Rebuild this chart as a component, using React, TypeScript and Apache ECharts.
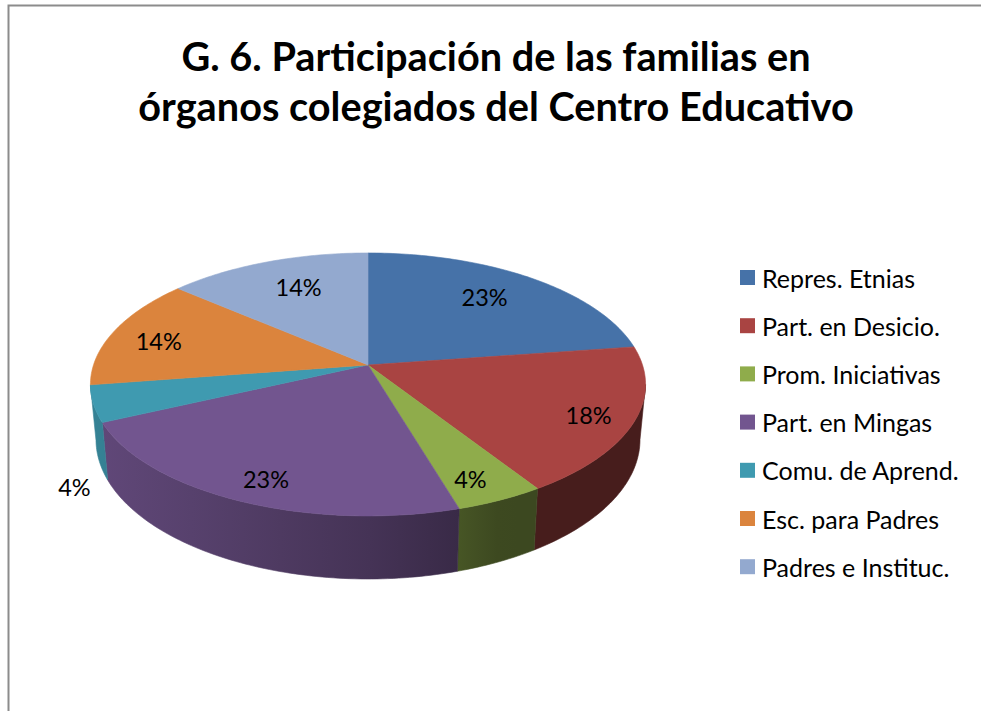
import React, { useEffect, useRef } from "react";
import * as echarts from "echarts";

const TITLE_LINES = ["G. 6. Participación de las familias en", "órganos colegiados del Centro Educativo"];
const CATEGORIES = [
  "Repres. Etnias",
  "Part. en Desicio.",
  "Prom. Iniciativas",
  "Part. en Mingas",
  "Comu. de Aprend.",
  "Esc. para Padres",
  "Padres e Instituc.",
];
const VALUES = [22.7, 18.2, 4.49, 22.7, 4.49, 13.7, 13.7];
const COLORS = ["#4672A8", "#A94442", "#8FAC4B", "#72558F", "#3F9AB0", "#DB843D", "#93A9CF"];

// Label placement in disk coordinates: radius fraction, shift from the slice's mid-angle in degrees
const LABEL_RADIUS = [0.736, 0.844, 0.85, 0.851, 1.253, 0.808, 0.721];
const LABEL_SHIFT = [-2.1, 1.3, 1.8, -1.6, -24.8, -2.1, 2];

const FONT = "Lato, 'Open Sans', sans-serif";
const CX = 368;
const CY = 365;
const A = 274.5;
const B = 128.6;
const K = 0.148;
const DEPTH = 54;
const BOTTOM_SHRINK_X = 0.98;
const BOTTOM_SCALE_Y = 1.06;
const WALL_START = 98.5;
const WALL_END = 261.2;
const TOTAL = VALUES.reduce((s, v) => s + v, 0);

function project(deg: number, r = 1): [number, number] {
  const t = (deg * Math.PI) / 180;
  const u = r * Math.sin(t);
  const v = -r * Math.cos(t);
  const den = 1 - K * v;
  return [CX + (A * u) / den, CY + (B * v) / den];
}

function shade(hex: string, f: number) {
  const n = parseInt(hex.slice(1), 16);
  const c = [(n >> 16) & 255, (n >> 8) & 255, n & 255].map((x) => Math.round(x * f));
  return `rgb(${c[0]},${c[1]},${c[2]})`;
}

function shadeAt(x: number) {
  if (x < 430) return 0.85 - (0.3 * (x - 90)) / 340;
  if (x < 500) return 0.55 - (0.13 * (x - 430)) / 70;
  return 0.42;
}

function arcPoints(a0: number, a1: number) {
  const n = Math.max(2, Math.ceil(Math.abs(a1 - a0)));
  const pts: [number, number][] = [];
  for (let i = 0; i <= n; i++) pts.push(project(a0 + ((a1 - a0) * i) / n));
  return pts;
}

function sliceItem(index: number, api: any) {
  const value = api.value(0) as number;
  const before = VALUES.slice(0, index).reduce((s, v) => s + v, 0);
  const a0 = (before / TOTAL) * 360;
  const a1 = a0 + (value / TOTAL) * 360;
  const color = COLORS[index];
  const children: any[] = [];
  const rim = arcPoints(a0, a1);
  children.push({
    type: "polygon",
    z2: 5,
    shape: { points: [[CX, CY], ...rim] },
    style: { fill: color, stroke: color, lineWidth: 0.6 },
  });
  const w0 = Math.max(a0, WALL_START);
  const w1 = Math.min(a1, WALL_END);
  if (w1 > w0) {
    const top = arcPoints(w0, w1);
    const bottom = top
      .map(
        ([x, y]) =>
          [CX + (x - CX) * BOTTOM_SHRINK_X, CY + (y - CY) * BOTTOM_SCALE_Y + DEPTH] as [number, number]
      )
      .reverse();
    const xs = top.map((p) => p[0]).concat(bottom.map((p) => p[0]));
    const xMin = Math.min(...xs);
    const xMax = Math.max(...xs);
    const stops = [0, 0.25, 0.5, 0.75, 1].map((o) => ({
      offset: o,
      color: shade(color, shadeAt(xMin + (xMax - xMin) * o)),
    }));
    const fill = new echarts.graphic.LinearGradient(xMin, 0, xMax, 0, stops, true);
    children.push({
      type: "polygon",
      z2: 2,
      shape: { points: [...top, ...bottom] },
      style: { fill, stroke: fill, lineWidth: 0.6 },
    });
  }
  const mid = (a0 + a1) / 2 + LABEL_SHIFT[index];
  const [lx, ly] = project(mid, LABEL_RADIUS[index]);
  children.push({
    type: "text",
    z2: 10,
    style: {
      text: `${Math.round((value / TOTAL) * 100)}%`,
      x: lx,
      y: ly,
      fill: "#000",
      font: `23.5px ${FONT}`,
      align: "center",
      verticalAlign: "middle",
    },
  });
  return { type: "group", children };
}

export default function App() {
  const ref = useRef<HTMLDivElement>(null);
  useEffect(() => {
    const chart = echarts.init(ref.current!, null, { renderer: "svg" });
    chart.setOption({
      animation: false,
      backgroundColor: "#fff",
      title: {
        text: TITLE_LINES.join("\n"),
        left: 491,
        top: 25,
        textAlign: "center",
        textStyle: { fontFamily: FONT, fontSize: 39.7, fontWeight: "bold", color: "#000", lineHeight: 50 },
      },
      legend: {
        orient: "vertical",
        left: 735,
        top: 260,
        itemWidth: 15,
        itemHeight: 15,
        itemGap: 23.2,
        icon: "rect",
        selectedMode: false,
        data: CATEGORIES,
        textStyle: { fontFamily: FONT, fontSize: 25, color: "#000", lineHeight: 25, padding: [0, 0, 0, 2] },
      },
      graphic: [
        {
          type: "polyline",
          silent: true,
          shape: { points: [[8.5, 711], [8.5, 5.5], [981, 5.5]] },
          style: { stroke: "#8c8c8c", lineWidth: 2, fill: "none" },
        },
      ],
      series: CATEGORIES.map((name, i) => ({
        type: "custom",
        name,
        coordinateSystem: "none",
        silent: true,
        itemStyle: { color: COLORS[i] },
        data: [[VALUES[i]]],
        renderItem: (_p: any, api: any) => sliceItem(i, api),
      })),
    });
    return () => chart.dispose();
  }, []);
  return <div ref={ref} style={{ position: "fixed", left: 0, top: 0, width: 981, height: 711 }} />;
}
